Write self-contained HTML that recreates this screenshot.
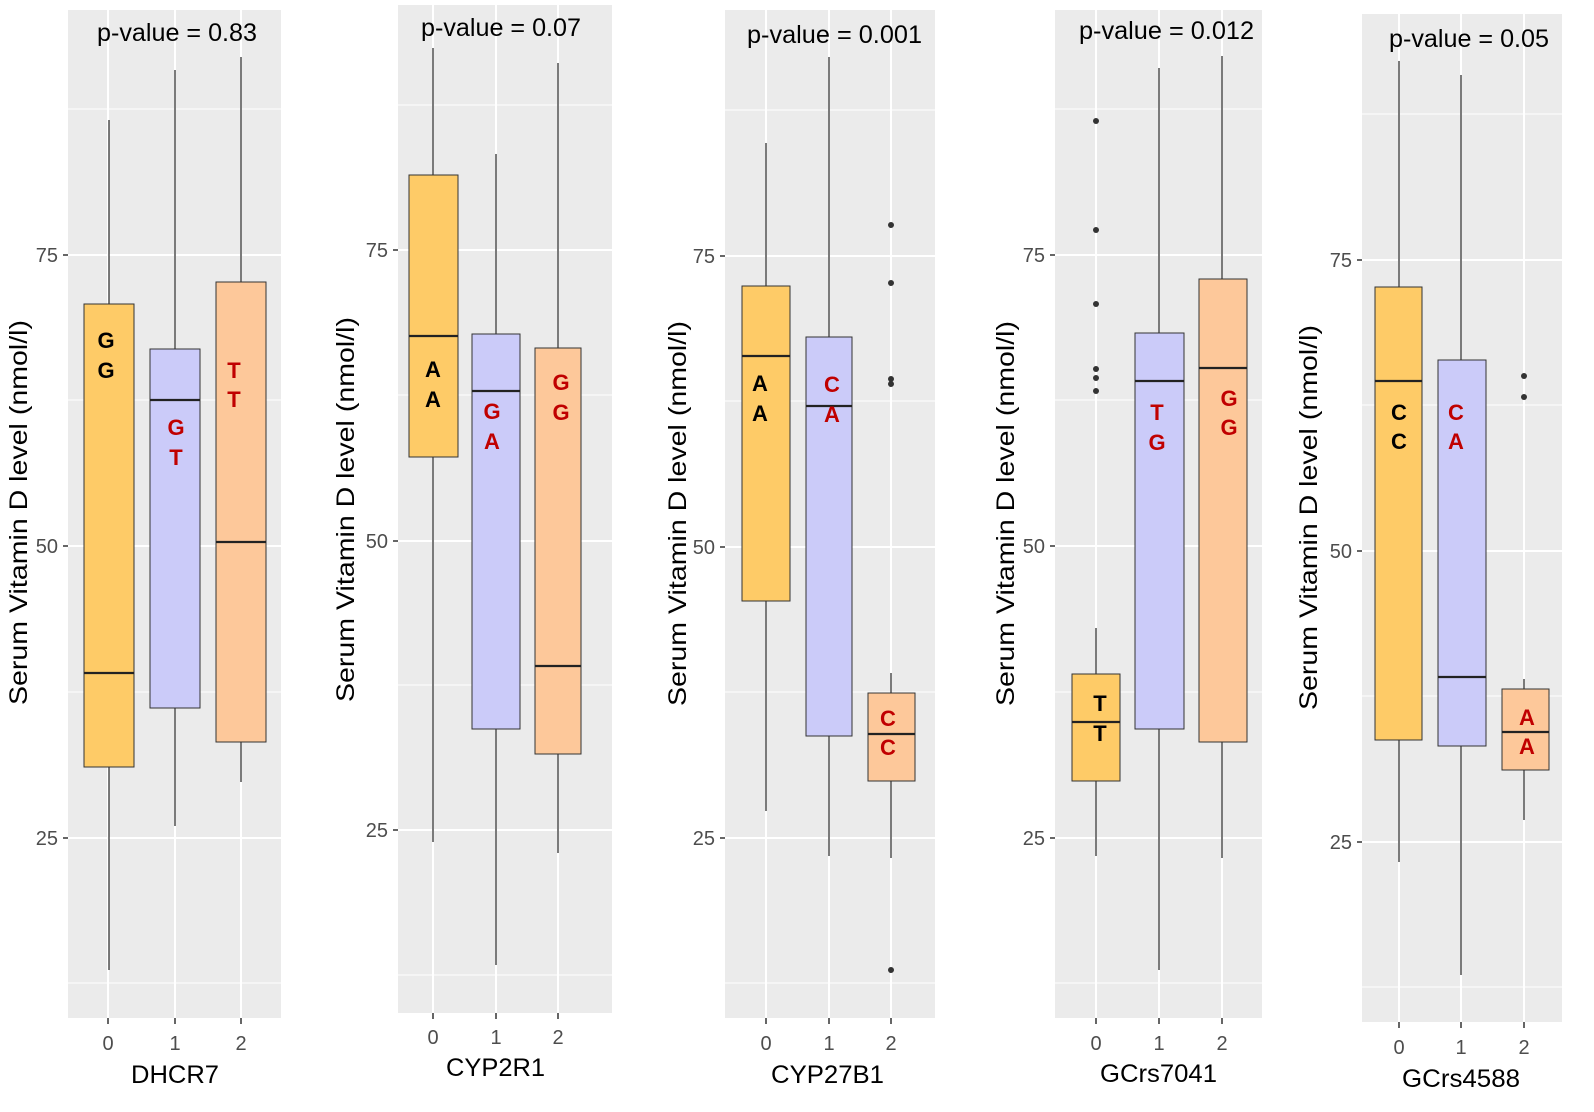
<!DOCTYPE html>
<html><head><meta charset="utf-8"><style>
html,body{margin:0;padding:0;background:#fff}
svg{display:block}
.bg{fill:#EBEBEB}
.mj{stroke:#fff;stroke-width:2}
.mn{stroke:#fff;stroke-width:1}
.w{stroke:#333;stroke-width:1.3}
.bx{stroke:#333;stroke-width:1}
.md{stroke:#222;stroke-width:2.2}
.tk{stroke:#333;stroke-width:1.5}
.tl{font-family:"Liberation Sans",sans-serif;font-size:20px;fill:#4D4D4D}
.at{font-family:"Liberation Sans",sans-serif;font-size:25px;fill:#000}
.pv{font-family:"Liberation Sans",sans-serif;font-size:25px;fill:#000}
.g{font-family:"Liberation Sans",sans-serif;font-size:22px;font-weight:bold;text-anchor:middle}
.k{fill:#000}.r{fill:#C00000}
.o{fill:#333}
</style></head><body>
<svg width="1594" height="1112" viewBox="0 0 1594 1112">

<!-- Panel 1 -->
<rect class="bg" x="68" y="10" width="213" height="1008"/>
<line class="mn" x1="68" x2="281" y1="109" y2="109"/><line class="mn" x1="68" x2="281" y1="400" y2="400"/><line class="mn" x1="68" x2="281" y1="692" y2="692"/><line class="mn" x1="68" x2="281" y1="983" y2="983"/>
<line class="mj" x1="68" x2="281" y1="255" y2="255"/><line class="mj" x1="68" x2="281" y1="546" y2="546"/><line class="mj" x1="68" x2="281" y1="838" y2="838"/>
<line class="mj" x1="108" x2="108" y1="10" y2="1018"/><line class="mj" x1="175" x2="175" y1="10" y2="1018"/><line class="mj" x1="241" x2="241" y1="10" y2="1018"/>
<line class="w" x1="109" x2="109" y1="120" y2="970"/><rect class="bx" x="84" y="304" width="50" height="463" fill="#FECB67"/><line class="md" x1="84" x2="134" y1="673" y2="673"/>
<line class="w" x1="175" x2="175" y1="70" y2="826"/><rect class="bx" x="150" y="349" width="50" height="359" fill="#CBCBF9"/><line class="md" x1="150" x2="200" y1="400" y2="400"/>
<line class="w" x1="241" x2="241" y1="57" y2="782"/><rect class="bx" x="216" y="282" width="50" height="460" fill="#FDC89A"/><line class="md" x1="216" x2="266" y1="542" y2="542"/>
<text class="g k" x="106" y="348">G</text><text class="g k" x="106" y="378">G</text>
<text class="g r" x="176" y="435">G</text><text class="g r" x="176" y="465">T</text>
<text class="g r" x="234" y="378">T</text><text class="g r" x="234" y="407">T</text>
<text class="pv" x="97" y="41" textLength="160" lengthAdjust="spacingAndGlyphs">p-value = 0.83</text>
<line class="tk" x1="63" x2="68" y1="255" y2="255"/><line class="tk" x1="63" x2="68" y1="546" y2="546"/><line class="tk" x1="63" x2="68" y1="838" y2="838"/>
<text class="tl" x="58" y="262" text-anchor="end">75</text><text class="tl" x="58" y="553" text-anchor="end">50</text><text class="tl" x="58" y="845" text-anchor="end">25</text>
<line class="tk" x1="108" x2="108" y1="1018" y2="1024"/><line class="tk" x1="175" x2="175" y1="1018" y2="1024"/><line class="tk" x1="241" x2="241" y1="1018" y2="1024"/>
<text class="tl" x="108" y="1050" text-anchor="middle">0</text><text class="tl" x="175" y="1050" text-anchor="middle">1</text><text class="tl" x="241" y="1050" text-anchor="middle">2</text>
<text class="at" x="131" y="1083" textLength="88" lengthAdjust="spacingAndGlyphs">DHCR7</text>
<text class="at" transform="translate(27,705) rotate(-90)" textLength="385" lengthAdjust="spacingAndGlyphs">Serum Vitamin D level (nmol/l)</text>

<!-- Panel 2 -->
<rect class="bg" x="398" y="5" width="214" height="1008"/>
<line class="mn" x1="398" x2="612" y1="105" y2="105"/><line class="mn" x1="398" x2="612" y1="395" y2="395"/><line class="mn" x1="398" x2="612" y1="685" y2="685"/><line class="mn" x1="398" x2="612" y1="975" y2="975"/>
<line class="mj" x1="398" x2="612" y1="250" y2="250"/><line class="mj" x1="398" x2="612" y1="541" y2="541"/><line class="mj" x1="398" x2="612" y1="830" y2="830"/>
<line class="mj" x1="433" x2="433" y1="5" y2="1013"/><line class="mj" x1="496" x2="496" y1="5" y2="1013"/><line class="mj" x1="558" x2="558" y1="5" y2="1013"/>
<line class="w" x1="433" x2="433" y1="48" y2="842"/><rect class="bx" x="409" y="175" width="49" height="282" fill="#FECB67"/><line class="md" x1="409" x2="458" y1="336" y2="336"/>
<line class="w" x1="496" x2="496" y1="154" y2="965"/><rect class="bx" x="472" y="334" width="48" height="395" fill="#CBCBF9"/><line class="md" x1="472" x2="520" y1="391" y2="391"/>
<line class="w" x1="558" x2="558" y1="63" y2="853"/><rect class="bx" x="535" y="348" width="46" height="406" fill="#FDC89A"/><line class="md" x1="535" x2="581" y1="666" y2="666"/>
<text class="g k" x="433" y="377">A</text><text class="g k" x="433" y="407">A</text>
<text class="g r" x="492" y="419">G</text><text class="g r" x="492" y="449">A</text>
<text class="g r" x="561" y="390">G</text><text class="g r" x="561" y="420">G</text>
<text class="pv" x="421" y="36" textLength="160" lengthAdjust="spacingAndGlyphs">p-value = 0.07</text>
<line class="tk" x1="393" x2="398" y1="250" y2="250"/><line class="tk" x1="393" x2="398" y1="541" y2="541"/><line class="tk" x1="393" x2="398" y1="830" y2="830"/>
<text class="tl" x="388" y="257" text-anchor="end">75</text><text class="tl" x="388" y="548" text-anchor="end">50</text><text class="tl" x="388" y="837" text-anchor="end">25</text>
<line class="tk" x1="433" x2="433" y1="1013" y2="1019"/><line class="tk" x1="496" x2="496" y1="1013" y2="1019"/><line class="tk" x1="558" x2="558" y1="1013" y2="1019"/>
<text class="tl" x="433" y="1044" text-anchor="middle">0</text><text class="tl" x="496" y="1044" text-anchor="middle">1</text><text class="tl" x="558" y="1044" text-anchor="middle">2</text>
<text class="at" x="446" y="1076" textLength="99" lengthAdjust="spacingAndGlyphs">CYP2R1</text>
<text class="at" transform="translate(354,702) rotate(-90)" textLength="385" lengthAdjust="spacingAndGlyphs">Serum Vitamin D level (nmol/l)</text>

<!-- Panel 3 -->
<rect class="bg" x="725" y="10" width="210" height="1008"/>
<line class="mn" x1="725" x2="935" y1="110" y2="110"/><line class="mn" x1="725" x2="935" y1="401" y2="401"/><line class="mn" x1="725" x2="935" y1="692" y2="692"/><line class="mn" x1="725" x2="935" y1="983" y2="983"/>
<line class="mj" x1="725" x2="935" y1="256" y2="256"/><line class="mj" x1="725" x2="935" y1="547" y2="547"/><line class="mj" x1="725" x2="935" y1="838" y2="838"/>
<line class="mj" x1="766" x2="766" y1="10" y2="1018"/><line class="mj" x1="829" x2="829" y1="10" y2="1018"/><line class="mj" x1="891" x2="891" y1="10" y2="1018"/>
<line class="w" x1="766" x2="766" y1="143" y2="811"/><rect class="bx" x="742" y="286" width="48" height="315" fill="#FECB67"/><line class="md" x1="742" x2="790" y1="356" y2="356"/>
<line class="w" x1="829" x2="829" y1="57" y2="856"/><rect class="bx" x="806" y="337" width="46" height="399" fill="#CBCBF9"/><line class="md" x1="806" x2="852" y1="406" y2="406"/>
<line class="w" x1="891" x2="891" y1="673" y2="858"/><rect class="bx" x="868" y="693" width="47" height="88" fill="#FDC89A"/><line class="md" x1="868" x2="915" y1="734" y2="734"/>
<circle class="o" cx="891" cy="225" r="3"/><circle class="o" cx="891" cy="283" r="3"/><circle class="o" cx="891" cy="379" r="3"/><circle class="o" cx="891" cy="384" r="3"/><circle class="o" cx="891" cy="970" r="3"/>
<text class="g k" x="760" y="391">A</text><text class="g k" x="760" y="421">A</text>
<text class="g r" x="832" y="392">C</text><text class="g r" x="832" y="422">A</text>
<text class="g r" x="888" y="726">C</text><text class="g r" x="888" y="755">C</text>
<text class="pv" x="747" y="43" textLength="175" lengthAdjust="spacingAndGlyphs">p-value = 0.001</text>
<line class="tk" x1="720" x2="725" y1="256" y2="256"/><line class="tk" x1="720" x2="725" y1="547" y2="547"/><line class="tk" x1="720" x2="725" y1="838" y2="838"/>
<text class="tl" x="715" y="263" text-anchor="end">75</text><text class="tl" x="715" y="554" text-anchor="end">50</text><text class="tl" x="715" y="845" text-anchor="end">25</text>
<line class="tk" x1="766" x2="766" y1="1018" y2="1024"/><line class="tk" x1="829" x2="829" y1="1018" y2="1024"/><line class="tk" x1="891" x2="891" y1="1018" y2="1024"/>
<text class="tl" x="766" y="1050" text-anchor="middle">0</text><text class="tl" x="829" y="1050" text-anchor="middle">1</text><text class="tl" x="891" y="1050" text-anchor="middle">2</text>
<text class="at" x="771" y="1083" textLength="113" lengthAdjust="spacingAndGlyphs">CYP27B1</text>
<text class="at" transform="translate(686,706) rotate(-90)" textLength="385" lengthAdjust="spacingAndGlyphs">Serum Vitamin D level (nmol/l)</text>

<!-- Panel 4 -->
<rect class="bg" x="1055" y="10" width="207" height="1008"/>
<line class="mn" x1="1055" x2="1262" y1="109" y2="109"/><line class="mn" x1="1055" x2="1262" y1="400" y2="400"/><line class="mn" x1="1055" x2="1262" y1="692" y2="692"/><line class="mn" x1="1055" x2="1262" y1="983" y2="983"/>
<line class="mj" x1="1055" x2="1262" y1="255" y2="255"/><line class="mj" x1="1055" x2="1262" y1="546" y2="546"/><line class="mj" x1="1055" x2="1262" y1="838" y2="838"/>
<line class="mj" x1="1096" x2="1096" y1="10" y2="1018"/><line class="mj" x1="1159" x2="1159" y1="10" y2="1018"/><line class="mj" x1="1222" x2="1222" y1="10" y2="1018"/>
<line class="w" x1="1096" x2="1096" y1="628" y2="856"/><rect class="bx" x="1072" y="674" width="48" height="107" fill="#FECB67"/><line class="md" x1="1072" x2="1120" y1="722" y2="722"/>
<circle class="o" cx="1096" cy="121" r="3"/><circle class="o" cx="1096" cy="230" r="3"/><circle class="o" cx="1096" cy="304" r="3"/><circle class="o" cx="1096" cy="369" r="3"/><circle class="o" cx="1096" cy="378" r="3"/><circle class="o" cx="1096" cy="391" r="3"/>
<line class="w" x1="1159" x2="1159" y1="68" y2="970"/><rect class="bx" x="1135" y="333" width="49" height="396" fill="#CBCBF9"/><line class="md" x1="1135" x2="1184" y1="381" y2="381"/>
<line class="w" x1="1222" x2="1222" y1="56" y2="858"/><rect class="bx" x="1199" y="279" width="48" height="463" fill="#FDC89A"/><line class="md" x1="1199" x2="1247" y1="368" y2="368"/>
<text class="g k" x="1100" y="711">T</text><text class="g k" x="1100" y="741">T</text>
<text class="g r" x="1157" y="420">T</text><text class="g r" x="1157" y="450">G</text>
<text class="g r" x="1229" y="406">G</text><text class="g r" x="1229" y="435">G</text>
<text class="pv" x="1079" y="39" textLength="175" lengthAdjust="spacingAndGlyphs">p-value = 0.012</text>
<line class="tk" x1="1050" x2="1055" y1="255" y2="255"/><line class="tk" x1="1050" x2="1055" y1="546" y2="546"/><line class="tk" x1="1050" x2="1055" y1="838" y2="838"/>
<text class="tl" x="1045" y="262" text-anchor="end">75</text><text class="tl" x="1045" y="553" text-anchor="end">50</text><text class="tl" x="1045" y="845" text-anchor="end">25</text>
<line class="tk" x1="1096" x2="1096" y1="1018" y2="1024"/><line class="tk" x1="1159" x2="1159" y1="1018" y2="1024"/><line class="tk" x1="1222" x2="1222" y1="1018" y2="1024"/>
<text class="tl" x="1096" y="1050" text-anchor="middle">0</text><text class="tl" x="1159" y="1050" text-anchor="middle">1</text><text class="tl" x="1222" y="1050" text-anchor="middle">2</text>
<text class="at" x="1100" y="1082" textLength="117" lengthAdjust="spacingAndGlyphs">GCrs7041</text>
<text class="at" transform="translate(1014,706) rotate(-90)" textLength="385" lengthAdjust="spacingAndGlyphs">Serum Vitamin D level (nmol/l)</text>

<!-- Panel 5 -->
<rect class="bg" x="1362" y="14" width="200" height="1008"/>
<line class="mn" x1="1362" x2="1562" y1="114" y2="114"/><line class="mn" x1="1362" x2="1562" y1="405" y2="405"/><line class="mn" x1="1362" x2="1562" y1="696" y2="696"/><line class="mn" x1="1362" x2="1562" y1="987" y2="987"/>
<line class="mj" x1="1362" x2="1562" y1="260" y2="260"/><line class="mj" x1="1362" x2="1562" y1="551" y2="551"/><line class="mj" x1="1362" x2="1562" y1="842" y2="842"/>
<line class="mj" x1="1399" x2="1399" y1="14" y2="1022"/><line class="mj" x1="1461" x2="1461" y1="14" y2="1022"/><line class="mj" x1="1524" x2="1524" y1="14" y2="1022"/>
<line class="w" x1="1399" x2="1399" y1="61" y2="862"/><rect class="bx" x="1375" y="287" width="47" height="453" fill="#FECB67"/><line class="md" x1="1375" x2="1422" y1="381" y2="381"/>
<line class="w" x1="1461" x2="1461" y1="75" y2="975"/><rect class="bx" x="1438" y="360" width="48" height="386" fill="#CBCBF9"/><line class="md" x1="1438" x2="1486" y1="677" y2="677"/>
<line class="w" x1="1524" x2="1524" y1="679" y2="820"/><rect class="bx" x="1502" y="689" width="47" height="81" fill="#FDC89A"/><line class="md" x1="1502" x2="1549" y1="732" y2="732"/>
<circle class="o" cx="1524" cy="376" r="3"/><circle class="o" cx="1524" cy="397" r="3"/>
<text class="g k" x="1399" y="420">C</text><text class="g k" x="1399" y="449">C</text>
<text class="g r" x="1456" y="420">C</text><text class="g r" x="1456" y="449">A</text>
<text class="g r" x="1527" y="725">A</text><text class="g r" x="1527" y="754">A</text>
<text class="pv" x="1389" y="47" textLength="160" lengthAdjust="spacingAndGlyphs">p-value = 0.05</text>
<line class="tk" x1="1357" x2="1362" y1="260" y2="260"/><line class="tk" x1="1357" x2="1362" y1="551" y2="551"/><line class="tk" x1="1357" x2="1362" y1="842" y2="842"/>
<text class="tl" x="1352" y="267" text-anchor="end">75</text><text class="tl" x="1352" y="558" text-anchor="end">50</text><text class="tl" x="1352" y="849" text-anchor="end">25</text>
<line class="tk" x1="1399" x2="1399" y1="1022" y2="1028"/><line class="tk" x1="1461" x2="1461" y1="1022" y2="1028"/><line class="tk" x1="1524" x2="1524" y1="1022" y2="1028"/>
<text class="tl" x="1399" y="1054" text-anchor="middle">0</text><text class="tl" x="1461" y="1054" text-anchor="middle">1</text><text class="tl" x="1524" y="1054" text-anchor="middle">2</text>
<text class="at" x="1402" y="1087" textLength="118" lengthAdjust="spacingAndGlyphs">GCrs4588</text>
<text class="at" transform="translate(1317,710) rotate(-90)" textLength="385" lengthAdjust="spacingAndGlyphs">Serum Vitamin D level (nmol/l)</text>
</svg>
</body></html>
